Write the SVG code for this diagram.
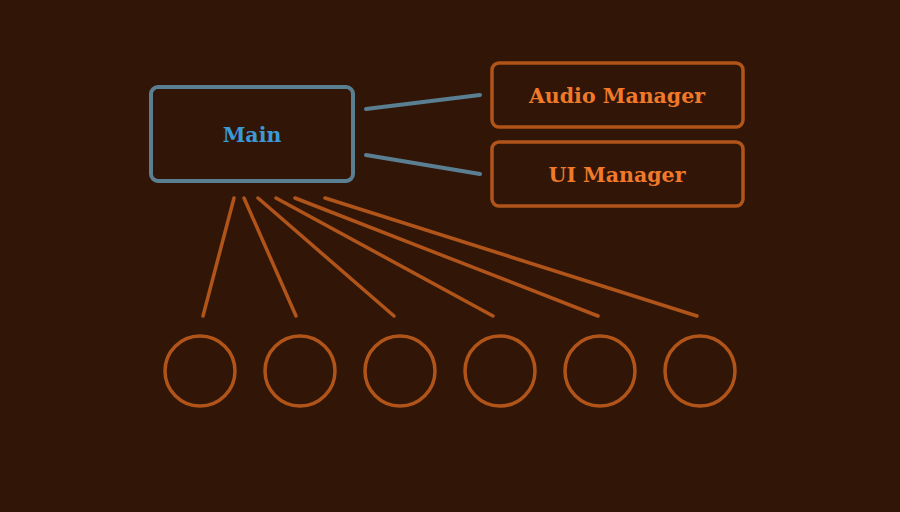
<svg xmlns="http://www.w3.org/2000/svg" width="900" height="512" viewBox="0 0 900 512">
<style>
.t{font-family:"DejaVu Serif","Liberation Serif",serif;font-weight:bold;font-size:20.5px;text-anchor:middle;dominant-baseline:central}
.o{fill:none;stroke:#b0541a;stroke-width:3.5}
.b{fill:none;stroke:#5a7f92;stroke-width:4}
</style>
<rect width="900" height="512" fill="#311607"/>
<g id="connectors" stroke-linecap="round">
<line class="b" x1="366" y1="109" x2="480" y2="95"/>
<line class="b" x1="366" y1="155" x2="480" y2="174"/>
<line class="o" x1="234" y1="198" x2="203" y2="316"/>
<line class="o" x1="244" y1="198" x2="296" y2="316"/>
<line class="o" x1="258" y1="198" x2="394" y2="316"/>
<line class="o" x1="276" y1="198" x2="493" y2="316"/>
<line class="o" x1="295" y1="198" x2="598" y2="316"/>
<line class="o" x1="325" y1="198" x2="697" y2="316"/>
</g>
<g id="main"><rect class="b" x="151" y="87" width="202" height="94" rx="7"/><text class="t" x="252" y="135" fill="#3a9ad8">Main</text></g>
<g id="audio"><rect class="o" x="492" y="63" width="251" height="64" rx="7"/><text class="t" x="617" y="96" fill="#f07a2a">Audio Manager</text></g>
<g id="ui"><rect class="o" x="492" y="142" width="251" height="64" rx="7"/><text class="t" x="617" y="175" fill="#f07a2a">UI Manager</text></g>
<g id="c1"><circle class="o" cx="200" cy="371" r="35"/></g>
<g id="c2"><circle class="o" cx="300" cy="371" r="35"/></g>
<g id="c3"><circle class="o" cx="400" cy="371" r="35"/></g>
<g id="c4"><circle class="o" cx="500" cy="371" r="35"/></g>
<g id="c5"><circle class="o" cx="600" cy="371" r="35"/></g>
<g id="c6"><circle class="o" cx="700" cy="371" r="35"/></g>
</svg>
